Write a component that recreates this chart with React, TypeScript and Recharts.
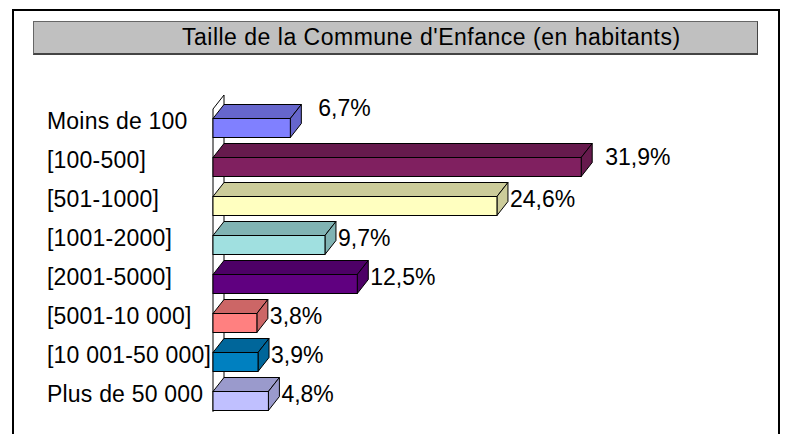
import { BarChart, Bar, XAxis, YAxis } from "recharts";

const categories = [
  "Moins de 100",
  "[100-500]",
  "[501-1000]",
  "[1001-2000]",
  "[2001-5000]",
  "[5001-10 000]",
  "[10 001-50 000]",
  "Plus de 50 000",
];
const shares = [6.7, 31.9, 24.6, 9.7, 12.5, 3.8, 3.9, 4.8];
const frontColors = ["#8080FF", "#802060", "#FFFFC0", "#A0E0E0", "#600080", "#FF8080", "#0080C0", "#C0C0FF"];
const shadeColors = ["#6666CC", "#661A4D", "#CCCC9A", "#80B3B3", "#4D0066", "#CC6666", "#00669A", "#9A9ACC"];

const data = categories.map((name, i) => ({ name, value: shares[i] }));

const FONT = "'Liberation Sans', Arial, sans-serif";
const DX = 11; // depth of the 3d boxes
const DY = 14;
const PLOT_LEFT = 213;
const PLOT_TOP = 101.5;
const PLOT_BOTTOM = 413.5;

// excel pushed the first two labels away from their bars
const labelNudge: Record<number, [number, number]> = { 0: [17, -13], 1: [13, -3] };

const fmt = (v: number) => `${v.toFixed(1).replace(".", ",")}%`;

function Box3D(props: any) {
  const { x, y, width, height, index, payload } = props;
  const fy = y + DY;
  const fh = height - DY;
  const r = x + width;
  const top = shadeColors[index];
  const [nx, ny] = labelNudge[index] ?? [2, 0];
  return (
    <g>
      <polygon points={`${x},${fy} ${r},${fy} ${r + DX},${y} ${x + DX},${y}`} fill={top} stroke="#000" />
      <polygon points={`${r},${fy} ${r + DX},${y} ${r + DX},${y + fh} ${r},${y + height}`} fill={top} stroke="#000" />
      <rect x={x} y={fy} width={width} height={fh} fill={frontColors[index]} stroke="#000" />
      <text x={r + DX + nx} y={y + height / 2 + ny} dy="0.355em" fontSize={23} fontFamily={FONT} fill="#000">
        {fmt(payload.value)}
      </text>
    </g>
  );
}

function CatTick(props: any) {
  const { y, payload } = props;
  return (
    <text x={47} y={y} dy="0.355em" textAnchor="start" fontSize={23} fontFamily={FONT} fill="#000" letterSpacing={0.2}>
      {payload.value}
    </text>
  );
}

export default function App() {
  return (
    <div style={{ position: "absolute", left: 0, top: 0, width: 788, height: 434, background: "#fff", overflow: "hidden" }}>
      <div style={{ position: "absolute", left: 12, top: 9, width: 768, height: 500, border: "2px solid #000", boxSizing: "border-box" }} />
      <div
        style={{
          position: "absolute", left: 33, top: 21, width: 725, height: 34, background: "#C0C0C0",
          border: "1px solid #666", borderRightColor: "#444", borderBottomColor: "#444", borderBottomWidth: 2,
          boxSizing: "border-box", fontFamily: FONT, fontSize: 23, lineHeight: "30px", color: "#000",
        }}
      >
        <span style={{ position: "absolute", left: 148, top: 0, whiteSpace: "nowrap", letterSpacing: 0.5 }}>
          Taille de la Commune d'Enfance (en habitants)
        </span>
      </div>
      <svg width={788} height={434} style={{ position: "absolute", left: 0, top: 0 }}>
        <polygon
          points={`${PLOT_LEFT},${PLOT_TOP + 7.5} ${PLOT_LEFT + DX},${PLOT_TOP - 6.5} ${PLOT_LEFT + DX},${PLOT_BOTTOM - 16} ${PLOT_LEFT},${PLOT_BOTTOM - 2}`}
          fill="#fff"
          stroke="#000"
        />
      </svg>
      <div style={{ position: "absolute", left: 0, top: 0 }}>
        <BarChart
          width={788}
          height={434}
          data={data}
          layout="vertical"
          margin={{ top: PLOT_TOP, right: 171, bottom: 434 - PLOT_BOTTOM, left: 0 }}
        >
          <XAxis type="number" domain={[0, 35]} hide />
          <YAxis type="category" dataKey="name" width={PLOT_LEFT} axisLine={false} tickLine={false} tick={<CatTick />} interval={0} />
          <Bar dataKey="value" barSize={33} shape={<Box3D />} isAnimationActive={false} />
        </BarChart>
      </div>
    </div>
  );
}
